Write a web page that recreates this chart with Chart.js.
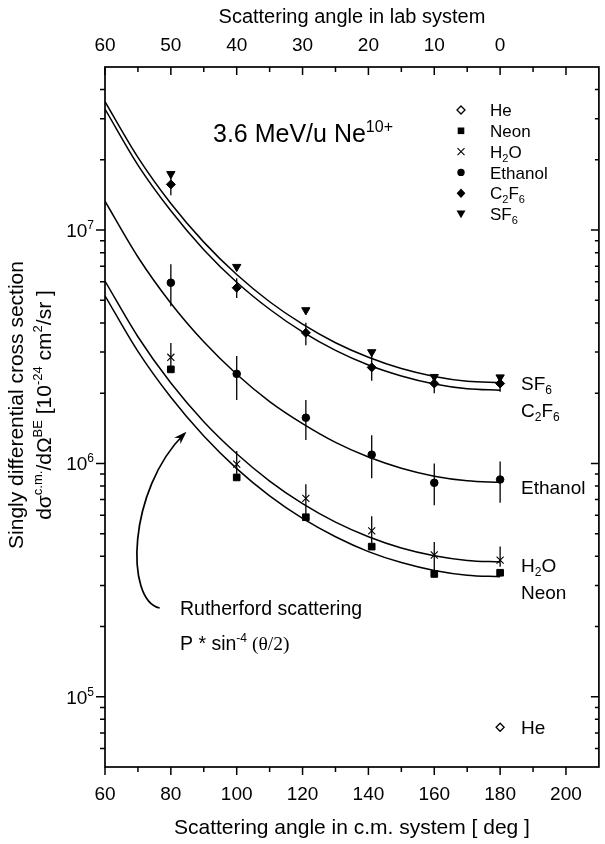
<!DOCTYPE html>
<html><head><meta charset="utf-8">
<script src="https://cdn.jsdelivr.net/npm/chart.js@4/dist/chart.umd.min.js"></script>
<style>html,body{margin:0;padding:0;background:#fff;}#wrap{width:605px;height:844px;position:relative;}</style>
</head><body><div id="wrap"><canvas id="c" width="605" height="844"></canvas></div>
<script>
// ---- data ----
const measuredAngles = [80, 100, 121, 141, 160, 180];
const sf6Values     = [1.74e7, 6.96e6, 4.54e6, 3.00e6, 2.35e6, 2.34e6];
const c2f6Values    = [1.57e7, 5.66e6, 3.63e6, 2.58e6, 2.20e6, 2.20e6];
const c2f6Low       = [1.41e7, 5.12e6, 3.21e6, 2.26e6, 2.00e6, 2.03e6];
const c2f6High      = [1.79e7, 6.22e6, 4.01e6, 3.06e6, 2.39e6, 2.39e6];
const ethanolValues = [5.95e6, 2.42e6, 1.57e6, 1.09e6, 8.26e5, 8.53e5];
const ethanolLow    = [4.72e6, 1.87e6, 1.26e6, 8.63e5, 6.62e5, 6.78e5];
const ethanolHigh   = [7.14e6, 2.89e6, 1.87e6, 1.32e6, 1.00e6, 1.02e6];
const h2oValues     = [2.85e6, 9.93e5, 7.08e5, 5.14e5, 4.05e5, 3.85e5];
const h2oLow        = [2.44e6, 8.70e5, 5.72e5, 4.54e5, 3.49e5, 3.61e5];
const h2oHigh       = [3.28e6, 1.13e6, 8.15e5, 5.94e5, 4.61e5, 4.40e5];
const neonValues    = [2.53e6, 8.71e5, 5.88e5, 4.40e5, 3.36e5, 3.40e5];
const heAngles      = [180];
const heValues      = [7.4e4];

const curveAngles   = [60, 70, 80, 90, 100, 110, 120, 130, 140, 150, 160, 170, 180];
const sf6Curve      = [3.55e7, 2.05e7, 1.30e7, 8.88e6, 6.45e6, 4.93e6, 3.95e6, 3.29e6, 2.85e6, 2.55e6, 2.36e6, 2.25e6, 2.22e6];
const c2f6Curve     = [3.30e7, 1.90e7, 1.21e7, 8.24e6, 5.98e6, 4.58e6, 3.66e6, 3.05e6, 2.64e6, 2.37e6, 2.19e6, 2.09e6, 2.06e6];
const ethanolCurve  = [1.33e7, 7.67e6, 4.86e6, 3.32e6, 2.41e6, 1.84e6, 1.48e6, 1.23e6, 1.065e6, 9.54e5, 8.82e5, 8.43e5, 8.30e5];
const h2oCurve      = [6.05e6, 3.49e6, 2.21e6, 1.51e6, 1.10e6, 8.40e5, 6.72e5, 5.60e5, 4.85e5, 4.34e5, 4.02e5, 3.84e5, 3.78e5];
const neonCurve     = [5.23e6, 3.02e6, 1.92e6, 1.31e6, 9.50e5, 7.26e5, 5.81e5, 4.85e5, 4.19e5, 3.76e5, 3.48e5, 3.32e5, 3.27e5];

const xMajorTicks = [60, 80, 100, 120, 140, 160, 180, 200];
const xMinorTicks = [70, 90, 110, 130, 150, 170, 190];
const labTickPositions = [60, 80, 100, 120, 140, 160, 180];
const labTickLabels = ['60', '50', '40', '30', '20', '10', '0'];
const yDecades = [1e5, 1e6, 1e7];
const yDecadeExponents = ['5', '6', '7'];
const yMinorMantissas = [2, 3, 4, 5, 6, 7, 8, 9];
const yMinorDecades = [1e4, 1e5, 1e6, 1e7];

// arrow annotation in data coordinates: tail, control 1, control 2, head
const arrowPath = [[76.6, 2.40e5], [66.0, 2.59e5], [66.9, 7.69e5], [84.1, 1.34e6]];

const F = '"Liberation Sans", Arial, Helvetica, sans-serif';
const pts = (xs, ys) => xs.map((x, i) => ({x: x, y: ys[i]}));

function richWidth(ctx, parts, size) {
  let w = 0;
  for (const p of parts) {
    const s = p[1] === 'n' ? size : Math.round(size * 0.62);
    ctx.font = s + 'px ' + (p[2] || F);
    w += ctx.measureText(p[0]).width;
  }
  return w;
}
function drawRich(ctx, parts, x, yMid, size, align) {
  const w = richWidth(ctx, parts, size);
  let cx = align === 'center' ? x - w / 2 : align === 'right' ? x - w : x;
  const base = yMid + size * 0.36;
  ctx.textAlign = 'left'; ctx.textBaseline = 'alphabetic'; ctx.fillStyle = '#000';
  for (const p of parts) {
    const s = p[1] === 'n' ? size : Math.round(size * 0.62);
    ctx.font = s + 'px ' + (p[2] || F);
    const dy = p[1] === 'sup' ? -size * 0.42 : p[1] === 'sub' ? size * 0.24 : 0;
    ctx.fillText(p[0], cx, base + dy);
    cx += ctx.measureText(p[0]).width;
  }
}
function drawMarker(ctx, style, x, y) {
  ctx.save();
  ctx.fillStyle = '#000'; ctx.strokeStyle = '#000'; ctx.lineWidth = 1;
  ctx.beginPath();
  if (style === 'he') {
    ctx.moveTo(x, y - 4); ctx.lineTo(x + 4, y); ctx.lineTo(x, y + 4); ctx.lineTo(x - 4, y); ctx.closePath();
    ctx.fillStyle = '#fff'; ctx.fill(); ctx.lineWidth = 1.3; ctx.stroke();
  } else if (style === 'neon') {
    ctx.rect(x - 3.3, y - 3.3, 6.6, 6.6); ctx.fill();
  } else if (style === 'h2o') {
    ctx.lineWidth = 1.1;
    ctx.moveTo(x - 3.5, y - 3.5); ctx.lineTo(x + 3.5, y + 3.5); ctx.moveTo(x + 3.5, y - 3.5); ctx.lineTo(x - 3.5, y + 3.5); ctx.stroke();
  } else if (style === 'eth') {
    ctx.arc(x, y, 3.7, 0, Math.PI * 2); ctx.fill();
  } else if (style === 'c2f6') {
    ctx.moveTo(x, y - 4.7); ctx.lineTo(x + 4.4, y); ctx.lineTo(x, y + 4.7); ctx.lineTo(x - 4.4, y); ctx.closePath(); ctx.fill();
  } else if (style === 'sf6') {
    ctx.moveTo(x - 4.5, y - 3.6); ctx.lineTo(x + 4.5, y - 3.6); ctx.lineTo(x, y + 4.2); ctx.closePath(); ctx.fill();
  }
  ctx.restore();
}

const errorSets = [
  {x: measuredAngles, lo: c2f6Low, hi: c2f6High},
  {x: measuredAngles, lo: ethanolLow, hi: ethanolHigh},
  {x: measuredAngles, lo: h2oLow, hi: h2oHigh}
];

const decorPlugin = {
  id: 'decor',
  beforeDatasetsDraw(chart) {
    const ctx = chart.ctx, xs = chart.scales.x, ys = chart.scales.y;
    ctx.save(); ctx.strokeStyle = '#000'; ctx.lineWidth = 1.3;
    for (const e of errorSets) {
      e.x.forEach((a, i) => {
        const px = xs.getPixelForValue(a);
        ctx.beginPath(); ctx.moveTo(px, ys.getPixelForValue(e.lo[i])); ctx.lineTo(px, ys.getPixelForValue(e.hi[i])); ctx.stroke();
      });
    }
    // arrow
    const P = arrowPath.map(p => [xs.getPixelForValue(p[0]), ys.getPixelForValue(p[1])]);
    ctx.lineWidth = 1.7;
    ctx.beginPath(); ctx.moveTo(P[0][0], P[0][1]);
    ctx.bezierCurveTo(P[1][0], P[1][1], P[2][0], P[2][1], P[3][0], P[3][1]); ctx.stroke();
    const dx = P[3][0] - P[2][0], dy = P[3][1] - P[2][1], L = Math.hypot(dx, dy);
    const ux = dx / L, uy = dy / L, nx = -uy, ny = ux;
    const tip = [P[3][0] + ux * 3, P[3][1] + uy * 3];
    ctx.beginPath(); ctx.moveTo(tip[0], tip[1]);
    ctx.lineTo(tip[0] - ux * 13 + nx * 4.5, tip[1] - uy * 13 + ny * 4.5);
    ctx.lineTo(tip[0] - ux * 9, tip[1] - uy * 9);
    ctx.lineTo(tip[0] - ux * 13 - nx * 4.5, tip[1] - uy * 13 - ny * 4.5);
    ctx.closePath(); ctx.fillStyle = '#000'; ctx.fill();
    ctx.restore();
  },
  afterDraw(chart) {
    const ctx = chart.ctx, a = chart.chartArea, xs = chart.scales.x, ys = chart.scales.y;
    ctx.save();
    ctx.strokeStyle = '#000'; ctx.lineWidth = 1.7;
    ctx.strokeRect(a.left, a.top, a.right - a.left, a.bottom - a.top);
    ctx.lineWidth = 1.5;
    ctx.beginPath();
    for (const v of xMajorTicks) { const p = xs.getPixelForValue(v); ctx.moveTo(p, a.bottom); ctx.lineTo(p, a.bottom + 8); ctx.moveTo(p, a.top); ctx.lineTo(p, a.top + 8); }
    for (const v of xMinorTicks) { const p = xs.getPixelForValue(v); ctx.moveTo(p, a.bottom); ctx.lineTo(p, a.bottom + 5); ctx.moveTo(p, a.top); ctx.lineTo(p, a.top + 5); }
    for (const v of yDecades) { const p = ys.getPixelForValue(v); ctx.moveTo(a.left, p); ctx.lineTo(a.left - 9, p); ctx.moveTo(a.right, p); ctx.lineTo(a.right - 8, p); }
    for (const d of yMinorDecades) for (const m of yMinorMantissas) {
      const v = d * m; if (v <= ys.min || v >= ys.max) continue;
      const p = ys.getPixelForValue(v); ctx.moveTo(a.left, p); ctx.lineTo(a.left - 5, p); ctx.moveTo(a.right, p); ctx.lineTo(a.right - 4, p);
    }
    ctx.stroke();

    ctx.fillStyle = '#000'; ctx.textAlign = 'center'; ctx.textBaseline = 'middle';
    ctx.font = '19px ' + F;
    xMajorTicks.forEach(v => ctx.fillText(String(v), xs.getPixelForValue(v), a.bottom + 28));
    labTickPositions.forEach((v, i) => ctx.fillText(labTickLabels[i], xs.getPixelForValue(v), a.top - 21));
    ctx.font = '21px ' + F;
    ctx.fillText('Scattering angle in c.m. system [ deg ]', (a.left + a.right) / 2, a.bottom + 61);
    ctx.font = '20px ' + F;
    ctx.fillText('Scattering angle in lab system', (a.left + a.right) / 2, 17);
    yDecades.forEach((v, i) => drawRich(ctx, [['10', 'n'], [yDecadeExponents[i], 'sup']], a.left - 11, ys.getPixelForValue(v), 19, 'right'));

    // y title
    ctx.save(); ctx.translate(17, 405); ctx.rotate(-Math.PI / 2);
    ctx.font = '21px ' + F; ctx.textAlign = 'center'; ctx.textBaseline = 'middle';
    ctx.fillText('Singly differential cross section', 0, 0);
    ctx.restore();
    ctx.save(); ctx.translate(43, 405); ctx.rotate(-Math.PI / 2);
    drawRich(ctx, [['d\u03c3', 'n'], ['c.m.', 'sup'], ['/d\u03a9', 'n'], ['BE', 'sup'], [' [10', 'n'], ['-24', 'sup'], [' cm', 'n'], ['2', 'sup'], ['/sr ]', 'n']], 0, 0, 21, 'center');
    ctx.restore();

    // energy label
    drawRich(ctx, [['3.6 MeV/u Ne', 'n'], ['10+', 'sup']], 213, 133, 25, 'left');

    // legend
    const legend = [
      ['he', [['He', 'n']]], ['neon', [['Neon', 'n']]], ['h2o', [['H', 'n'], ['2', 'sub'], ['O', 'n']]],
      ['eth', [['Ethanol', 'n']]], ['c2f6', [['C', 'n'], ['2', 'sub'], ['F', 'n'], ['6', 'sub']]], ['sf6', [['SF', 'n'], ['6', 'sub']]]
    ];
    legend.forEach((l, i) => {
      const y = 110 + i * 20.8;
      drawMarker(ctx, l[0], 461, y);
      drawRich(ctx, l[1], 490, y, 17, 'left');
    });

    // curve labels
    const lx = 521;
    drawRich(ctx, [['SF', 'n'], ['6', 'sub']], lx, 383, 19, 'left');
    drawRich(ctx, [['C', 'n'], ['2', 'sub'], ['F', 'n'], ['6', 'sub']], lx, 410, 19, 'left');
    drawRich(ctx, [['Ethanol', 'n']], lx, 487, 19, 'left');
    drawRich(ctx, [['H', 'n'], ['2', 'sub'], ['O', 'n']], lx, 565, 19, 'left');
    drawRich(ctx, [['Neon', 'n']], lx, 592, 19, 'left');
    drawRich(ctx, [['He', 'n']], lx, 727, 19, 'left');

    // Rutherford annotation
    drawRich(ctx, [['Rutherford scattering', 'n']], 180, 608, 19.5, 'left');
    drawRich(ctx, [['P * sin', 'n'], ['-4', 'sup'], [' (\u03b8/2)', 'n', '"Liberation Serif", "Times New Roman", serif']], 180, 643, 19.5, 'left');
    ctx.restore();
  }
};

const lineDs = (label, ys) => ({type: 'line', label: label, data: pts(curveAngles, ys), borderColor: '#000', borderWidth: 1.5, pointRadius: 0, cubicInterpolationMode: 'monotone', fill: false});
const ptDs = (label, xs, ys, style, r, extra) => Object.assign({type: 'scatter', label: label, data: pts(xs, ys), pointStyle: style, pointRadius: r, backgroundColor: '#000', borderColor: '#000', borderWidth: 1, showLine: false}, extra || {});

new Chart(document.getElementById('c'), {
  data: {datasets: [
    lineDs('SF6 fit', sf6Curve), lineDs('C2F6 fit', c2f6Curve), lineDs('Ethanol fit', ethanolCurve),
    lineDs('H2O fit', h2oCurve), lineDs('Neon fit', neonCurve),
    ptDs('SF6', measuredAngles, sf6Values, 'triangle', 4.8, {rotation: 180}),
    ptDs('C2F6', measuredAngles, c2f6Values, 'rectRot', 4.5),
    ptDs('Ethanol', measuredAngles, ethanolValues, 'circle', 3.8),
    ptDs('H2O', measuredAngles, h2oValues, 'crossRot', 5, {borderWidth: 1.1}),
    ptDs('Neon', measuredAngles, neonValues, 'rect', 4.7),
    ptDs('He', heAngles, heValues, 'rectRot', 4, {backgroundColor: '#fff', borderWidth: 1.3})
  ]},
  options: {
    responsive: false, animation: false, devicePixelRatio: 1,
    layout: {padding: {left: 105, right: 2, top: 67, bottom: 77}},
    scales: {
      x: {type: 'linear', min: 60, max: 210, display: false},
      y: {type: 'logarithmic', min: 5e4, max: 5e7, display: false}
    },
    plugins: {legend: {display: false}, tooltip: {enabled: false}}
  },
  plugins: [decorPlugin]
});
</script></body></html>
